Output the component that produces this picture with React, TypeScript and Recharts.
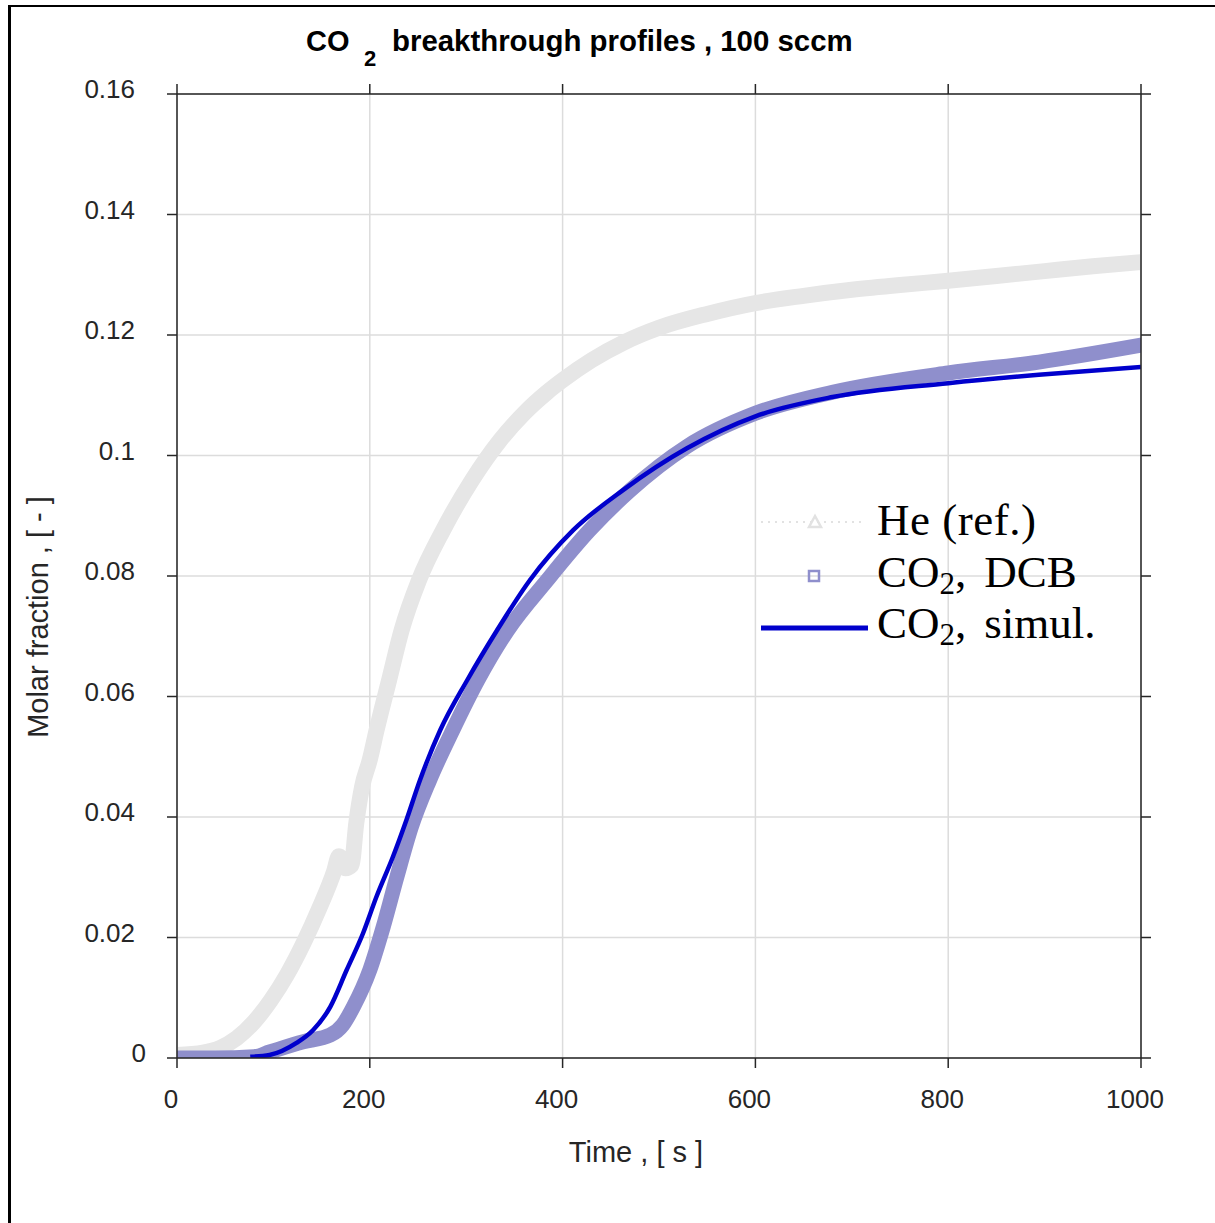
import React from 'react'
import { ComposedChart, Line, XAxis, YAxis, CartesianGrid, Legend } from 'recharts'

// He (ref.) — time [s] / molar fraction [-]
const heTime = [0, 27, 45, 62, 80, 97, 114, 131, 148, 163, 168, 175, 181, 186, 192, 200, 207, 220, 233, 251, 276, 306, 335, 360, 384, 400, 430, 464, 500, 550, 600, 650, 700, 750, 800, 850, 900, 950, 1000]
const heFrac = [0.0005, 0.0009, 0.0017, 0.0033, 0.006, 0.0095, 0.0138, 0.019, 0.025, 0.031, 0.0335, 0.0315, 0.032, 0.039, 0.045, 0.0495, 0.0544, 0.0627, 0.071, 0.0793, 0.0876, 0.0959, 0.1025, 0.107, 0.1105, 0.1125, 0.1158, 0.1188, 0.1212, 0.1235, 0.1253, 0.1265, 0.1275, 0.1283, 0.129, 0.1298, 0.1306, 0.1314, 0.1321]

// CO2, DCB (measured)
const dcbTime = [0, 40, 80, 96, 131, 159, 172, 183, 200, 214, 228, 243, 262, 286, 312, 343, 384, 428, 470, 529, 600, 680, 800, 894, 1000]
const dcbFrac = [0, 0, 0.0002, 0.001, 0.0027, 0.0038, 0.0055, 0.0085, 0.0146, 0.0218, 0.03, 0.0383, 0.0461, 0.0544, 0.0627, 0.071, 0.0793, 0.0876, 0.0942, 0.1015, 0.107, 0.1105, 0.1137, 0.1155, 0.1183]

// CO2, simul.
const simTime = [76, 96, 124, 141, 159, 176, 193, 207, 224, 238, 252, 273, 301, 332, 366, 411, 463, 529, 600, 680, 800, 894, 1000]
const simFrac = [0.0002, 0.0005, 0.0025, 0.0046, 0.0085, 0.0146, 0.0207, 0.0268, 0.0334, 0.0395, 0.0461, 0.0544, 0.0627, 0.071, 0.0793, 0.0876, 0.0943, 0.1012, 0.1065, 0.1097, 0.112, 0.1134, 0.1147]

const xTicks = [0, 200, 400, 600, 800, 1000]
const yTicks = [0, 0.02, 0.04, 0.06, 0.08, 0.1, 0.12, 0.14, 0.16]
const yTickLabels = ['0', '0.02', '0.04', '0.06', '0.08', '0.1', '0.12', '0.14', '0.16']

const heData = heTime.map((t, i) => ({ t, v: heFrac[i] }))
const dcbData = dcbTime.map((t, i) => ({ t, v: dcbFrac[i] }))
const simData = simTime.map((t, i) => ({ t, v: simFrac[i] }))

const SANS = '"Liberation Sans", Arial, sans-serif'
const SERIF = '"Liberation Serif", "Times New Roman", serif'
const AXIS = '#262626'

const XTick = ({ x, y, payload }: any) => (
  <text x={x - 6} y={y} textAnchor="middle" fontSize={26} fontFamily={SANS} fill={AXIS}>
    {payload.value}
  </text>
)

// matlab puts the lone "0" a bit further right than the others
const YTick = ({ x, y, payload }: any) => (
  <text x={payload.value === 0 ? x + 11 : x} y={y + 4} textAnchor="end" fontSize={26} fontFamily={SANS} fill={AXIS}>
    {yTickLabels[yTicks.indexOf(payload.value)]}
  </text>
)

const NoTick = () => <g />

const LegendBox = () => (
  <svg width={360} height={170} style={{ display: 'block' }}>
    <line x1={6} x2={106} y1={32} y2={32} stroke="#e2e2e2" strokeWidth={2} strokeDasharray="2 5" />
    <polygon points="60,26 66,37 54,37" fill="none" stroke="#e2e2e2" strokeWidth={2.5} />
    <text x={122} y={45} fontSize={45} fontFamily={SERIF} fill="#000" letterSpacing={0.5}>He (ref.)</text>
    <rect x={54} y={81} width={10} height={10} fill="none" stroke="#8f8fcc" strokeWidth={2.5} />
    <text x={122} y={97} fontSize={45} fontFamily={SERIF} fill="#000">
      CO<tspan fontSize={31} dy={7}>2</tspan>
      <tspan dy={-7}>,</tspan>
      <tspan dx={18}>DCB</tspan>
    </text>
    <line x1={6} x2={113} y1={138} y2={138} stroke="#0000cc" strokeWidth={5} />
    <text x={122} y={148} fontSize={45} fontFamily={SERIF} fill="#000">
      CO<tspan fontSize={31} dy={7}>2</tspan>
      <tspan dy={-7}>,</tspan>
      <tspan dx={18}>simul.</tspan>
    </text>
  </svg>
)

export default function App() {
  return (
    <div style={{ position: 'absolute', left: 0, top: 0, width: 1215, height: 1223, background: '#fff', overflow: 'hidden' }}>
      <div style={{ position: 'absolute', left: 8, top: 5, width: 1300, height: 1300, borderLeft: '3px solid #000', borderTop: '2px solid #000' }} />
      <svg width={1215} height={90} style={{ position: 'absolute', left: 0, top: 0 }}>
        <text x={306} y={51} fontSize={29} fontWeight="bold" fontFamily={SANS} fill="#000">CO</text>
        <text x={364} y={66} fontSize={22} fontWeight="bold" fontFamily={SANS} fill="#000">2</text>
        <text x={392} y={51} fontSize={29.4} fontWeight="bold" fontFamily={SANS} fill="#000">breakthrough profiles , 100 sccm</text>
      </svg>
      <div style={{ position: 'absolute', left: 0, top: 0 }}>
        <ComposedChart width={1215} height={1223} margin={{ top: 93, right: 73, bottom: 125, left: 117 }}>
          <CartesianGrid xAxisId="b" yAxisId="l" stroke="#dcdcdc" strokeWidth={1.5} />
          <XAxis
            xAxisId="b"
            type="number"
            dataKey="t"
            domain={[0, 1000]}
            ticks={xTicks}
            allowDataOverflow
            height={40}
            tickSize={10}
            tickMargin={40}
            tick={<XTick />}
            axisLine={{ stroke: AXIS, strokeWidth: 1.5 }}
            tickLine={{ stroke: AXIS, strokeWidth: 1.5 }}
            label={{
              content: () => (
                <text x={636} y={1162} textAnchor="middle" fontSize={29} fontFamily={SANS} fill={AXIS}>
                  Time , [ s ]
                </text>
              ),
            }}
          />
          <XAxis
            xAxisId="top"
            orientation="top"
            type="number"
            dataKey="t"
            domain={[0, 1000]}
            ticks={xTicks}
            allowDataOverflow
            height={1}
            tickSize={10}
            tick={NoTick}
            axisLine={{ stroke: AXIS, strokeWidth: 1.5 }}
            tickLine={{ stroke: AXIS, strokeWidth: 1.5 }}
          />
          <YAxis
            yAxisId="l"
            type="number"
            domain={[0, 0.16]}
            ticks={yTicks}
            allowDataOverflow
            width={60}
            tickSize={10}
            tickMargin={32}
            tick={<YTick />}
            axisLine={{ stroke: AXIS, strokeWidth: 1.5 }}
            tickLine={{ stroke: AXIS, strokeWidth: 1.5 }}
            label={{
              content: () => (
                <text x={48} y={617} textAnchor="middle" fontSize={29} fontFamily={SANS} fill={AXIS} transform="rotate(-90 48 617)">
                  Molar fraction , [ - ]
                </text>
              ),
            }}
          />
          <YAxis
            yAxisId="r"
            orientation="right"
            type="number"
            domain={[0, 0.16]}
            ticks={yTicks}
            allowDataOverflow
            width={1}
            tickSize={10}
            tick={NoTick}
            axisLine={{ stroke: AXIS, strokeWidth: 1.5 }}
            tickLine={{ stroke: AXIS, strokeWidth: 1.5 }}
          />
          <Line
            xAxisId="b"
            yAxisId="l"
            data={heData}
            dataKey="v"
            type="monotone"
            stroke="#e6e6e6"
            strokeWidth={16}
            strokeLinecap="square"
            dot={false}
            isAnimationActive={false}
            name="He (ref.)"
          />
          <Line
            xAxisId="b"
            yAxisId="l"
            data={dcbData}
            dataKey="v"
            type="monotone"
            stroke="#8f8fcc"
            strokeWidth={15}
            strokeLinecap="square"
            dot={false}
            isAnimationActive={false}
            name="CO2, DCB"
          />
          <Line
            xAxisId="top"
            yAxisId="r"
            data={simData}
            dataKey="v"
            type="monotone"
            stroke="#0000cc"
            strokeWidth={4.5}
            dot={false}
            isAnimationActive={false}
            name="CO2, simul."
          />
          <Legend
            layout="vertical"
            align="center"
            verticalAlign="middle"
            content={<LegendBox />}
            wrapperStyle={{ left: 755, top: 490, width: 360, height: 170 }}
          />
        </ComposedChart>
      </div>
    </div>
  )
}
